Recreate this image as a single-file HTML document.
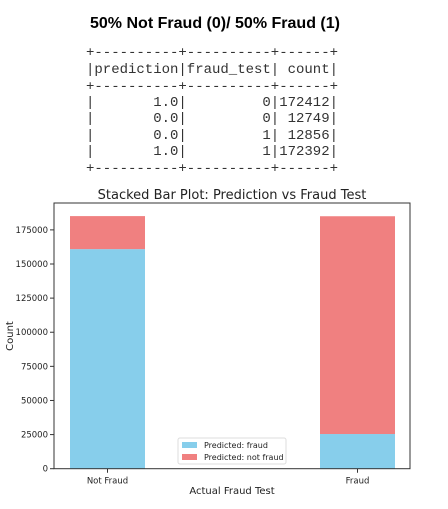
<!DOCTYPE html>
<html><head><meta charset="utf-8"><style>
html,body{margin:0;padding:0;background:#fff;}
svg{display:block;}
</style></head><body>
<svg id="c" width="448" height="509" xmlns="http://www.w3.org/2000/svg" font-family="'DejaVu Sans','Liberation Sans',sans-serif">
<text x="90" y="28" font-family="'Liberation Sans',sans-serif" font-weight="bold" font-size="16" textLength="250" lengthAdjust="spacingAndGlyphs" fill="#000">50% Not Fraud (0)/ 50% Fraud (1)</text>
<g font-family="'Liberation Mono',monospace" font-size="13.5" fill="#333">
<text x="86" y="56" textLength="252" lengthAdjust="spacingAndGlyphs">+----------+----------+------+</text>
<text x="86" y="73" textLength="252" lengthAdjust="spacingAndGlyphs">|prediction|fraud_test| count|</text>
<text x="86" y="90" textLength="252" lengthAdjust="spacingAndGlyphs">+----------+----------+------+</text>
<text x="86" y="106" textLength="252" lengthAdjust="spacingAndGlyphs" xml:space="preserve">|       1.0|         0|172412|</text>
<text x="86" y="122" textLength="252" lengthAdjust="spacingAndGlyphs" xml:space="preserve">|       0.0|         0| 12749|</text>
<text x="86" y="139" textLength="252" lengthAdjust="spacingAndGlyphs" xml:space="preserve">|       0.0|         1| 12856|</text>
<text x="86" y="155" textLength="252" lengthAdjust="spacingAndGlyphs" xml:space="preserve">|       1.0|         1|172392|</text>
<text x="86" y="172" textLength="252" lengthAdjust="spacingAndGlyphs">+----------+----------+------+</text>
</g>
<text x="232" y="199" text-anchor="middle" font-size="13" fill="#222">Stacked Bar Plot: Prediction vs Fraud Test</text>
<g id="plot"></g>
</svg>
<script>
const categories = ["Not Fraud", "Fraud"];
const predFraud = [160900, 25400];
const predNotFraud = [24200, 159600];
const yTicks = [0, 25000, 50000, 75000, 100000, 125000, 150000, 175000];

const L=54, R=410, T=203, B=468.7, yMax=194700;
const NS="http://www.w3.org/2000/svg";
const g=document.getElementById('plot');
function y(v){return B-(v/yMax)*(B-T);}
function xc(i){return 107.5+i*250;}
function mk(tag,a,txt){const e=document.createElementNS(NS,tag);for(const k in a)e.setAttribute(k,a[k]);if(txt!=null)e.textContent=txt;g.appendChild(e);return e;}
const bw=75;
categories.forEach((c,i)=>{
  const b1=mk('rect',{x:xc(i)-bw/2,y:y(predFraud[i]),width:bw,height:B-y(predFraud[i]),fill:'#87ceeb'});
  
  
  const top=predFraud[i]+predNotFraud[i];
  const b2=mk('rect',{x:xc(i)-bw/2,y:y(top),width:bw,height:y(predFraud[i])-y(top),fill:'#f08080'});
  
  
  mk('line',{x1:xc(i),x2:xc(i),y1:B,y2:B+4,stroke:'#333'});
  const t=mk('text',{x:xc(i),y:B+15,'text-anchor':'middle','font-size':'8.5',fill:'#222'},c);
  
  
});
yTicks.forEach(v=>{
  mk('line',{x1:L-4,x2:L,y1:y(v),y2:y(v),stroke:'#333'});
  const t=mk('text',{x:L-6,y:y(v)+3,'text-anchor':'end','font-size':'8.5',fill:'#222'},String(v));
  
  
});
const ax=mk('rect',{x:L,y:T,width:R-L,height:B-T,fill:'none',stroke:'#333','stroke-width':'1'});


const xl=mk('text',{x:232,y:494,'text-anchor':'middle','font-size':'10',fill:'#222'},'Actual Fraud Test');


const yl=mk('text',{x:13,y:336,'text-anchor':'middle','font-size':'10',fill:'#222',transform:'rotate(-90 13 336)'},'Count');


const lg=mk('rect',{x:178,y:438,width:108,height:26,fill:'#fff',stroke:'#ddd',rx:2});


mk('rect',{x:182,y:442,width:15,height:6,fill:'#87ceeb'});
const l1=mk('text',{x:204,y:448,'font-size':'8',fill:'#222'},'Predicted: fraud');


mk('rect',{x:182,y:454,width:15,height:6,fill:'#f08080'});
const l2=mk('text',{x:204,y:460,'font-size':'8',fill:'#222'},'Predicted: not fraud');


</script>
</body></html>
